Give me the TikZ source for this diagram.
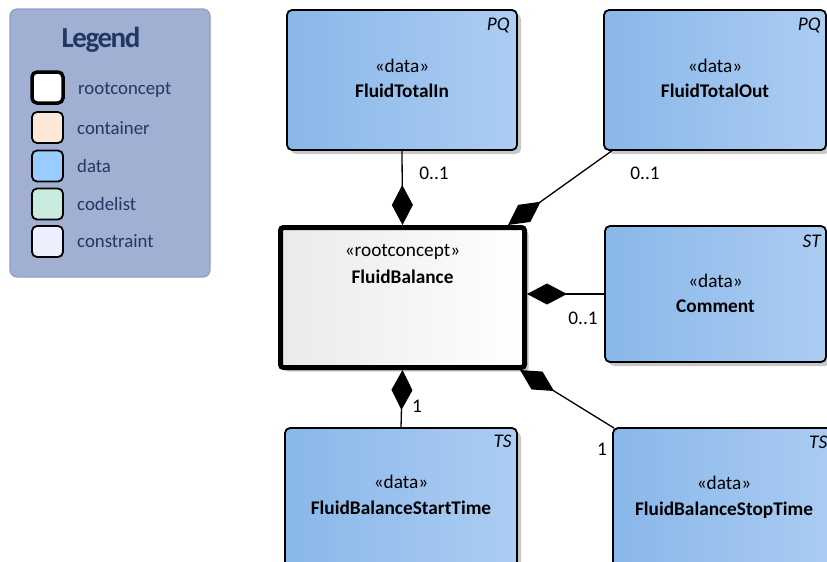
\documentclass[tikz,border=0pt]{standalone}
\usepackage{fontspec}
\setmainfont{Carlito}
\usetikzlibrary{arrows.meta,calc,shadows}
\definecolor{boxL}{RGB}{137,183,233}
\definecolor{boxR}{RGB}{172,205,242}
\definecolor{rootL}{RGB}{234,234,234}
\definecolor{legfill}{RGB}{161,175,210}
\definecolor{legdraw}{RGB}{143,158,198}
\definecolor{legtext}{RGB}{31,56,100}
\definecolor{shad}{RGB}{200,200,200}
\definecolor{swcont}{RGB}{252,232,216}
\definecolor{swdata}{RGB}{153,204,255}
\definecolor{swcode}{RGB}{200,235,221}
\definecolor{swcons}{RGB}{237,238,254}
\begin{document}
\begin{tikzpicture}[x=1pt,y=-1pt,
  boxshadow/.style={drop shadow={shadow xshift=4pt,shadow yshift=-4pt,fill=shad,opacity=1}},
  databox/.style={draw=black,line width=1.8pt,rounded corners=5pt,left color=boxL,right color=boxR,boxshadow,inner sep=0pt},
  rootbox/.style={draw=black,line width=5pt,rounded corners=3pt,left color=rootL,right color=white,boxshadow,inner sep=0pt},
  txt/.style={font=\fontsize{19.3}{22}\selectfont,inner sep=0pt,text height=12.4pt,text depth=0pt},
  stereo/.style={txt},
  bname/.style={txt,font=\fontsize{19.3}{22}\selectfont\bfseries},
  tag/.style={txt,font=\fontsize{19.3}{22}\selectfont\itshape,anchor=north east},
  mult/.style={txt},
  conn/.style={draw=black,line width=1.3pt},
  comp/.style={-{Diamond[length=40pt,width=21pt,fill=black]}},
  legbox/.style={draw=legdraw,line width=1.2pt,fill=legfill,rounded corners=7pt,inner sep=0pt},
  swatch/.style={draw=black,line width=1.8pt,rounded corners=5pt,minimum width=31pt,minimum height=31pt,inner sep=0pt},
  leglabel/.style={inner sep=0pt,font=\fontsize{18.8}{21}\selectfont,text height=12pt,text depth=0pt,text=legtext,anchor=west}
]
\useasboundingbox (0,0) rectangle (827,562);

% Legend
\node[legbox,minimum width=200pt,minimum height=268pt] (leg) at (110,143) {};
\node[inner sep=0pt,text=legtext,font=\fontsize{29}{32}\selectfont\bfseries\addfontfeature{LetterSpace=-5},text height=19pt,text depth=0pt] (legt) at (101,38) {Legend};
\node[swatch,fill=white,line width=3.5pt] (sw1) at (47.5,87.5) {};
\node[swatch,fill=swcont] (sw2) at (47.5,127.5) {};
\node[swatch,fill=swdata] (sw3) at (47.5,166) {};
\node[swatch,fill=swcode] (sw4) at (47.5,204) {};
\node[swatch,fill=swcons] (sw5) at (47.5,241.5) {};
\node[leglabel] (lb1) at (78,88.5) {rootconcept};
\node[leglabel] (lb2) at (77,128) {container};
\node[leglabel] (lb3) at (77,166) {data};
\node[leglabel] (lb4) at (77,204) {codelist};
\node[leglabel] (lb5) at (77,241.5) {constraint};

% Boxes
\node[databox,minimum width=230pt,minimum height=140pt] (tin) at (402,80) {};
\node[databox,minimum width=222pt,minimum height=140pt] (tout) at (715,80) {};
\node[rootbox,minimum width=244pt,minimum height=140pt] (fb) at (402.5,297.5) {};
\node[databox,minimum width=221pt,minimum height=136pt] (com) at (715.5,294) {};
\node[databox,minimum width=232pt,minimum height=140pt] (st) at (401,498) {};
\node[databox,minimum width=227pt,minimum height=140pt] (sp) at (726.5,498) {};

% Texts
\node[tag] (tin-t) at ([xshift=-8pt,yshift=-9pt]tin.north east) {PQ};
\node[stereo] (tin-s) at ([yshift=-57pt]tin.north) {«data»};
\node[bname] (tin-n) at ([yshift=-82pt]tin.north) {FluidTotalIn};

\node[tag] (tout-t) at ([xshift=-6pt,yshift=-9pt]tout.north east) {PQ};
\node[stereo] (tout-s) at ([yshift=-57pt]tout.north) {«data»};
\node[bname] (tout-n) at ([yshift=-82pt]tout.north) {FluidTotalOut};

\node[stereo] (fb-s) at ([yshift=-25pt]fb.north) {«rootconcept»};
\node[bname] (fb-n) at ([yshift=-52pt]fb.north) {FluidBalance};

\node[tag] (com-t) at ([xshift=-6pt,yshift=-10pt]com.north east) {ST};
\node[stereo] (com-s) at ([yshift=-56pt]com.north) {«data»};
\node[bname] (com-n) at ([yshift=-81pt]com.north) {Comment};

\node[tag] (st-t) at ([xshift=-6pt,yshift=-8pt]st.north east) {TS};
\node[stereo] (st-s) at ([yshift=-55pt]st.north) {«data»};
\node[bname] (st-n) at ([yshift=-81pt]st.north) {FluidBalanceStartTime};

\node[txt,font=\fontsize{19.3}{22}\selectfont\itshape,anchor=north west] (sp-t) at (809,436) {TS};
\node[stereo] (sp-s) at (724,483) {«data»};
\node[bname] (sp-n) at (724,509) {FluidBalanceStopTime};

% Connectors
\draw[conn,comp] (tin.south) -- (fb.north);
\draw[conn,comp] ($(tout.south west)+(10,-1)$) -- ($(fb.north east)+(-19,0)$);
\draw[conn,comp] (com.west) -- (fb.east |- com.west);
\draw[conn,comp] (st.north) -- (fb.south);
\draw[conn,comp] ($(sp.north west)+(2,1)$) -- ($(fb.south east)+(-7,0)$);

% Multiplicities
\node[mult] (m1) at (434,173) {0..1};
\node[mult] (m2) at (645,173) {0..1};
\node[mult] (m3) at (583,318) {0..1};
\node[mult] (m4) at (417,406) {1};
\node[mult] (m5) at (602,449) {1};
\end{tikzpicture}
\end{document}
